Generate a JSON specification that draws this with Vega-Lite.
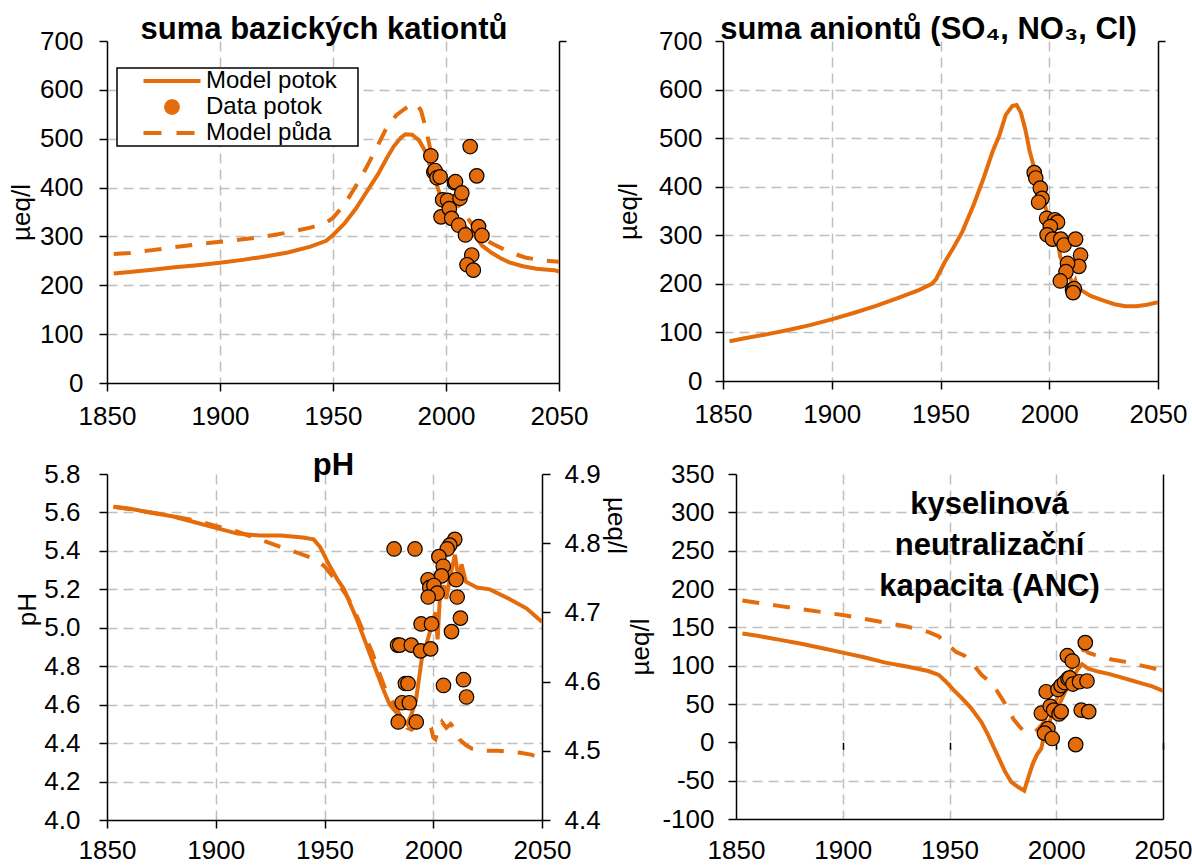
{
  "$schema": "https://vega.github.io/schema/vega-lite/v6.json",
  "padding": {"left": 8, "top": 14, "right": 0, "bottom": 0},
  "background": "white",
  "config": {
    "font": "Liberation Sans",
    "view": {"stroke": null},
    "axis": {
      "labelFont": "Liberation Sans", "labelFontSize": 26, "labelColor": "black",
      "domainColor": "black", "domainWidth": 1.5,
      "tickColor": "black", "tickWidth": 1.5, "tickSize": 8, "labelPadding": 12,
      "gridColor": "#BFBFBF", "gridDash": [10, 6], "gridWidth": 1.5,
      "titleFont": "Liberation Sans", "titleFontSize": 26, "titleFontWeight": "normal", "titleColor": "black",
      "labelFlush": false, "labelOverlap": false
    },
    "title": {"font": "Liberation Sans", "fontSize": 31, "fontWeight": "bold", "color": "black", "anchor": "middle"}
  },
  "datasets": {
    "catLine": [
      {"year": 1853, "value": 224, "series": "Model potok"}, {"year": 1860, "value": 227, "series": "Model potok"},
      {"year": 1870, "value": 232, "series": "Model potok"}, {"year": 1880, "value": 237, "series": "Model potok"},
      {"year": 1890, "value": 241, "series": "Model potok"}, {"year": 1900, "value": 246, "series": "Model potok"},
      {"year": 1910, "value": 252, "series": "Model potok"}, {"year": 1920, "value": 259, "series": "Model potok"},
      {"year": 1930, "value": 267, "series": "Model potok"}, {"year": 1940, "value": 279, "series": "Model potok"},
      {"year": 1947, "value": 291, "series": "Model potok"}, {"year": 1950, "value": 303, "series": "Model potok"},
      {"year": 1955, "value": 326, "series": "Model potok"}, {"year": 1960, "value": 356, "series": "Model potok"},
      {"year": 1965, "value": 392, "series": "Model potok"}, {"year": 1970, "value": 428, "series": "Model potok"},
      {"year": 1974, "value": 462, "series": "Model potok"}, {"year": 1977, "value": 485, "series": "Model potok"},
      {"year": 1980, "value": 502, "series": "Model potok"}, {"year": 1982, "value": 509, "series": "Model potok"},
      {"year": 1985, "value": 508, "series": "Model potok"}, {"year": 1988, "value": 497, "series": "Model potok"},
      {"year": 1991, "value": 473, "series": "Model potok"}, {"year": 1993, "value": 442, "series": "Model potok"},
      {"year": 1996, "value": 405, "series": "Model potok"}, {"year": 1998, "value": 375, "series": "Model potok"},
      {"year": 2001, "value": 355, "series": "Model potok"}, {"year": 2004, "value": 340, "series": "Model potok"},
      {"year": 2007, "value": 327, "series": "Model potok"}, {"year": 2010, "value": 313, "series": "Model potok"},
      {"year": 2013, "value": 300, "series": "Model potok"}, {"year": 2016, "value": 281, "series": "Model potok"},
      {"year": 2020, "value": 267, "series": "Model potok"}, {"year": 2024, "value": 256, "series": "Model potok"},
      {"year": 2028, "value": 247, "series": "Model potok"}, {"year": 2034, "value": 239, "series": "Model potok"},
      {"year": 2040, "value": 234, "series": "Model potok"}, {"year": 2045, "value": 232, "series": "Model potok"},
      {"year": 2048, "value": 231, "series": "Model potok"}, {"year": 2050, "value": 228, "series": "Model potok"},
      {"year": 1853, "value": 264, "series": "Model půda"}, {"year": 1860, "value": 266, "series": "Model půda"},
      {"year": 1870, "value": 272, "series": "Model půda"}, {"year": 1880, "value": 278, "series": "Model půda"},
      {"year": 1890, "value": 284, "series": "Model půda"}, {"year": 1900, "value": 289, "series": "Model půda"},
      {"year": 1910, "value": 294, "series": "Model půda"}, {"year": 1920, "value": 300, "series": "Model půda"},
      {"year": 1930, "value": 308, "series": "Model půda"}, {"year": 1940, "value": 318, "series": "Model půda"},
      {"year": 1947, "value": 328, "series": "Model půda"}, {"year": 1950, "value": 338, "series": "Model půda"},
      {"year": 1955, "value": 365, "series": "Model půda"}, {"year": 1960, "value": 402, "series": "Model půda"},
      {"year": 1965, "value": 443, "series": "Model půda"}, {"year": 1970, "value": 488, "series": "Model půda"},
      {"year": 1974, "value": 525, "series": "Model půda"}, {"year": 1978, "value": 548, "series": "Model půda"},
      {"year": 1982, "value": 562, "series": "Model půda"}, {"year": 1985, "value": 570, "series": "Model půda"},
      {"year": 1987, "value": 571, "series": "Model půda"}, {"year": 1989, "value": 557, "series": "Model půda"},
      {"year": 1991, "value": 522, "series": "Model půda"}, {"year": 1993, "value": 480, "series": "Model půda"},
      {"year": 1995, "value": 442, "series": "Model půda"}, {"year": 1998, "value": 410, "series": "Model půda"},
      {"year": 2001, "value": 388, "series": "Model půda"}, {"year": 2004, "value": 372, "series": "Model půda"},
      {"year": 2007, "value": 355, "series": "Model půda"}, {"year": 2010, "value": 335, "series": "Model půda"},
      {"year": 2014, "value": 308, "series": "Model půda"}, {"year": 2018, "value": 292, "series": "Model půda"},
      {"year": 2021, "value": 284, "series": "Model půda"}, {"year": 2025, "value": 275, "series": "Model půda"},
      {"year": 2030, "value": 265, "series": "Model půda"}, {"year": 2035, "value": 257, "series": "Model půda"},
      {"year": 2042, "value": 251, "series": "Model půda"}, {"year": 2050, "value": 248, "series": "Model půda"}
    ],
    "catPts": [
      {"year": 1993.3, "value": 465}, {"year": 1994.6, "value": 432}, {"year": 1995.1, "value": 435},
      {"year": 1996.0, "value": 420}, {"year": 1997.4, "value": 422}, {"year": 1998.5, "value": 375},
      {"year": 1997.8, "value": 340}, {"year": 2000.7, "value": 374}, {"year": 2001.5, "value": 357},
      {"year": 2002.5, "value": 337}, {"year": 2003.7, "value": 410}, {"year": 2004.2, "value": 412},
      {"year": 2006.2, "value": 378}, {"year": 2007.0, "value": 389}, {"year": 2005.6, "value": 323},
      {"year": 2008.6, "value": 303}, {"year": 2010.7, "value": 484}, {"year": 2013.6, "value": 424},
      {"year": 2014.4, "value": 320}, {"year": 2015.9, "value": 302}, {"year": 2011.4, "value": 262},
      {"year": 2009.3, "value": 242}, {"year": 2012.1, "value": 231}
    ],
    "anLine": [
      {"year": 1853, "value": 82}, {"year": 1860, "value": 88}, {"year": 1870, "value": 96}, {"year": 1880, "value": 105},
      {"year": 1890, "value": 115}, {"year": 1900, "value": 127}, {"year": 1910, "value": 140}, {"year": 1920, "value": 154},
      {"year": 1930, "value": 170}, {"year": 1940, "value": 187}, {"year": 1946, "value": 200}, {"year": 1948, "value": 210},
      {"year": 1952, "value": 245}, {"year": 1956, "value": 275}, {"year": 1960, "value": 307}, {"year": 1965, "value": 360},
      {"year": 1970, "value": 420}, {"year": 1974, "value": 473}, {"year": 1977, "value": 505}, {"year": 1980, "value": 548},
      {"year": 1983, "value": 566}, {"year": 1985, "value": 568}, {"year": 1987, "value": 552}, {"year": 1989, "value": 518},
      {"year": 1991, "value": 473}, {"year": 1993, "value": 440}, {"year": 1995, "value": 412}, {"year": 1997, "value": 380},
      {"year": 1999, "value": 345}, {"year": 2001, "value": 320}, {"year": 2003, "value": 300}, {"year": 2004, "value": 290},
      {"year": 2005, "value": 256}, {"year": 2007, "value": 238}, {"year": 2009, "value": 218}, {"year": 2011, "value": 198},
      {"year": 2012, "value": 207}, {"year": 2013, "value": 192}, {"year": 2015, "value": 186}, {"year": 2019, "value": 175},
      {"year": 2024, "value": 167}, {"year": 2030, "value": 158}, {"year": 2035, "value": 154}, {"year": 2040, "value": 154},
      {"year": 2045, "value": 157}, {"year": 2050, "value": 162}
    ],
    "anPts": [
      {"year": 1993.1, "value": 429}, {"year": 1993.8, "value": 418}, {"year": 1995.9, "value": 397},
      {"year": 1996.7, "value": 376}, {"year": 1995.1, "value": 368}, {"year": 1998.8, "value": 335},
      {"year": 2002.6, "value": 332}, {"year": 2003.8, "value": 327}, {"year": 2000.5, "value": 318},
      {"year": 1999.0, "value": 301}, {"year": 2001.5, "value": 292}, {"year": 2005.3, "value": 292},
      {"year": 2006.8, "value": 280}, {"year": 2012.1, "value": 292}, {"year": 2014.4, "value": 259},
      {"year": 2013.6, "value": 236}, {"year": 2008.4, "value": 242}, {"year": 2007.7, "value": 225},
      {"year": 2005.1, "value": 206}, {"year": 2010.7, "value": 188}, {"year": 2011.5, "value": 190},
      {"year": 2011.0, "value": 182}
    ],
    "phLine": [
      {"year": 1853, "ph": 5.63, "series": "Model potok"}, {"year": 1860, "ph": 5.62, "series": "Model potok"},
      {"year": 1870, "ph": 5.60, "series": "Model potok"}, {"year": 1880, "ph": 5.58, "series": "Model potok"},
      {"year": 1890, "ph": 5.55, "series": "Model potok"}, {"year": 1900, "ph": 5.52, "series": "Model potok"},
      {"year": 1910, "ph": 5.49, "series": "Model potok"}, {"year": 1920, "ph": 5.48, "series": "Model potok"},
      {"year": 1930, "ph": 5.48, "series": "Model potok"}, {"year": 1940, "ph": 5.47, "series": "Model potok"},
      {"year": 1945, "ph": 5.46, "series": "Model potok"}, {"year": 1948, "ph": 5.42, "series": "Model potok"},
      {"year": 1952, "ph": 5.33, "series": "Model potok"}, {"year": 1956, "ph": 5.25, "series": "Model potok"},
      {"year": 1959, "ph": 5.20, "series": "Model potok"}, {"year": 1962, "ph": 5.12, "series": "Model potok"},
      {"year": 1965, "ph": 5.04, "series": "Model potok"}, {"year": 1968, "ph": 4.95, "series": "Model potok"},
      {"year": 1971, "ph": 4.86, "series": "Model potok"}, {"year": 1974, "ph": 4.77, "series": "Model potok"},
      {"year": 1977, "ph": 4.68, "series": "Model potok"}, {"year": 1980, "ph": 4.60, "series": "Model potok"},
      {"year": 1983, "ph": 4.56, "series": "Model potok"}, {"year": 1986, "ph": 4.52, "series": "Model potok"},
      {"year": 1988, "ph": 4.50, "series": "Model potok"}, {"year": 1990, "ph": 4.55, "series": "Model potok"},
      {"year": 1992, "ph": 4.62, "series": "Model potok"}, {"year": 1993, "ph": 4.70, "series": "Model potok"},
      {"year": 1995, "ph": 4.86, "series": "Model potok"}, {"year": 1997, "ph": 4.92, "series": "Model potok"},
      {"year": 1999, "ph": 5.00, "series": "Model potok"}, {"year": 2001, "ph": 5.08, "series": "Model potok"},
      {"year": 2002, "ph": 4.94, "series": "Model potok"}, {"year": 2003, "ph": 5.15, "series": "Model potok"},
      {"year": 2005, "ph": 5.22, "series": "Model potok"}, {"year": 2006, "ph": 5.15, "series": "Model potok"},
      {"year": 2008, "ph": 5.28, "series": "Model potok"}, {"year": 2010, "ph": 5.38, "series": "Model potok"},
      {"year": 2011, "ph": 5.30, "series": "Model potok"}, {"year": 2012, "ph": 5.27, "series": "Model potok"},
      {"year": 2013, "ph": 5.33, "series": "Model potok"}, {"year": 2015, "ph": 5.24, "series": "Model potok"},
      {"year": 2020, "ph": 5.21, "series": "Model potok"}, {"year": 2026, "ph": 5.20, "series": "Model potok"},
      {"year": 2035, "ph": 5.15, "series": "Model potok"}, {"year": 2043, "ph": 5.10, "series": "Model potok"},
      {"year": 2050, "ph": 5.03, "series": "Model potok"},
      {"year": 1853, "ph": 5.63, "series": "Model půda"}, {"year": 1870, "ph": 5.60, "series": "Model půda"},
      {"year": 1890, "ph": 5.56, "series": "Model půda"}, {"year": 1900, "ph": 5.53, "series": "Model půda"},
      {"year": 1910, "ph": 5.50, "series": "Model půda"}, {"year": 1915, "ph": 5.48, "series": "Model půda"},
      {"year": 1920, "ph": 5.46, "series": "Model půda"}, {"year": 1925, "ph": 5.44, "series": "Model půda"},
      {"year": 1930, "ph": 5.42, "series": "Model půda"}, {"year": 1935, "ph": 5.40, "series": "Model půda"},
      {"year": 1940, "ph": 5.38, "series": "Model půda"}, {"year": 1945, "ph": 5.36, "series": "Model půda"},
      {"year": 1950, "ph": 5.32, "series": "Model půda"}, {"year": 1955, "ph": 5.25, "series": "Model půda"},
      {"year": 1960, "ph": 5.17, "series": "Model půda"}, {"year": 1963, "ph": 5.11, "series": "Model půda"},
      {"year": 1966, "ph": 5.03, "series": "Model půda"}, {"year": 1969, "ph": 4.95, "series": "Model půda"},
      {"year": 1972, "ph": 4.87, "series": "Model půda"}, {"year": 1975, "ph": 4.77, "series": "Model půda"},
      {"year": 1978, "ph": 4.68, "series": "Model půda"}, {"year": 1981, "ph": 4.62, "series": "Model půda"},
      {"year": 1984, "ph": 4.56, "series": "Model půda"}, {"year": 1986, "ph": 4.52, "series": "Model půda"},
      {"year": 1988, "ph": 4.48, "series": "Model půda"}, {"year": 1990, "ph": 4.47, "series": "Model půda"},
      {"year": 1993, "ph": 4.50, "series": "Model půda"}, {"year": 1995, "ph": 4.52, "series": "Model půda"},
      {"year": 1997, "ph": 4.50, "series": "Model půda"}, {"year": 1999, "ph": 4.48, "series": "Model půda"},
      {"year": 2000, "ph": 4.43, "series": "Model půda"}, {"year": 2001, "ph": 4.42, "series": "Model půda"},
      {"year": 2002, "ph": 4.46, "series": "Model půda"}, {"year": 2004, "ph": 4.51, "series": "Model půda"},
      {"year": 2006, "ph": 4.48, "series": "Model půda"}, {"year": 2008, "ph": 4.50, "series": "Model půda"},
      {"year": 2010, "ph": 4.47, "series": "Model půda"}, {"year": 2012, "ph": 4.42, "series": "Model půda"},
      {"year": 2015, "ph": 4.39, "series": "Model půda"}, {"year": 2018, "ph": 4.37, "series": "Model půda"},
      {"year": 2022, "ph": 4.36, "series": "Model půda"}, {"year": 2030, "ph": 4.36, "series": "Model půda"},
      {"year": 2040, "ph": 4.35, "series": "Model půda"}, {"year": 2045, "ph": 4.34, "series": "Model půda"},
      {"year": 2050, "ph": 4.32, "series": "Model půda"}
    ],
    "phPts": [
      {"year": 1982.0, "ph": 5.41}, {"year": 1991.6, "ph": 5.41}, {"year": 2009.9, "ph": 5.46},
      {"year": 2007.6, "ph": 5.43}, {"year": 2006.4, "ph": 5.41}, {"year": 2002.6, "ph": 5.37},
      {"year": 2004.6, "ph": 5.32}, {"year": 2003.8, "ph": 5.27}, {"year": 1997.6, "ph": 5.25},
      {"year": 1998.4, "ph": 5.21}, {"year": 2000.3, "ph": 5.22}, {"year": 2001.8, "ph": 5.18},
      {"year": 1997.7, "ph": 5.16}, {"year": 2010.5, "ph": 5.25}, {"year": 2011.0, "ph": 5.16},
      {"year": 1994.4, "ph": 5.02}, {"year": 1999.2, "ph": 5.02}, {"year": 2012.5, "ph": 5.05},
      {"year": 2008.4, "ph": 4.98}, {"year": 1983.6, "ph": 4.91}, {"year": 1984.6, "ph": 4.91},
      {"year": 1989.9, "ph": 4.91}, {"year": 1994.2, "ph": 4.88}, {"year": 1998.8, "ph": 4.89},
      {"year": 1987.2, "ph": 4.71}, {"year": 1988.4, "ph": 4.71}, {"year": 2004.7, "ph": 4.70},
      {"year": 2013.9, "ph": 4.73}, {"year": 2015.3, "ph": 4.64}, {"year": 1985.7, "ph": 4.61},
      {"year": 1989.0, "ph": 4.61}, {"year": 1983.9, "ph": 4.51}, {"year": 1992.2, "ph": 4.51}
    ],
    "ancLine": [
      {"year": 1853, "anc": 142, "series": "Model potok"}, {"year": 1860, "anc": 139, "series": "Model potok"},
      {"year": 1870, "anc": 134, "series": "Model potok"}, {"year": 1880, "anc": 129, "series": "Model potok"},
      {"year": 1890, "anc": 123, "series": "Model potok"}, {"year": 1900, "anc": 117, "series": "Model potok"},
      {"year": 1910, "anc": 111, "series": "Model potok"}, {"year": 1920, "anc": 104, "series": "Model potok"},
      {"year": 1930, "anc": 99, "series": "Model potok"}, {"year": 1940, "anc": 93, "series": "Model potok"},
      {"year": 1945, "anc": 88, "series": "Model potok"}, {"year": 1948, "anc": 80, "series": "Model potok"},
      {"year": 1952, "anc": 68, "series": "Model potok"}, {"year": 1956, "anc": 57, "series": "Model potok"},
      {"year": 1960, "anc": 45, "series": "Model potok"}, {"year": 1965, "anc": 26, "series": "Model potok"},
      {"year": 1968, "anc": 10, "series": "Model potok"}, {"year": 1970, "anc": -2, "series": "Model potok"},
      {"year": 1973, "anc": -20, "series": "Model potok"}, {"year": 1976, "anc": -38, "series": "Model potok"},
      {"year": 1979, "anc": -52, "series": "Model potok"}, {"year": 1982, "anc": -58, "series": "Model potok"},
      {"year": 1985, "anc": -63, "series": "Model potok"}, {"year": 1987, "anc": -45, "series": "Model potok"},
      {"year": 1989, "anc": -28, "series": "Model potok"}, {"year": 1991, "anc": -16, "series": "Model potok"},
      {"year": 1993, "anc": -8, "series": "Model potok"}, {"year": 1994, "anc": 5, "series": "Model potok"},
      {"year": 1996, "anc": 20, "series": "Model potok"}, {"year": 1998, "anc": 36, "series": "Model potok"},
      {"year": 2000, "anc": 45, "series": "Model potok"}, {"year": 2002, "anc": 53, "series": "Model potok"},
      {"year": 2004, "anc": 65, "series": "Model potok"}, {"year": 2006, "anc": 75, "series": "Model potok"},
      {"year": 2008, "anc": 85, "series": "Model potok"}, {"year": 2010, "anc": 95, "series": "Model potok"},
      {"year": 2012, "anc": 102, "series": "Model potok"}, {"year": 2013, "anc": 100, "series": "Model potok"},
      {"year": 2015, "anc": 96, "series": "Model potok"}, {"year": 2020, "anc": 92, "series": "Model potok"},
      {"year": 2025, "anc": 89, "series": "Model potok"}, {"year": 2030, "anc": 85, "series": "Model potok"},
      {"year": 2035, "anc": 81, "series": "Model potok"}, {"year": 2040, "anc": 77, "series": "Model potok"},
      {"year": 2045, "anc": 73, "series": "Model potok"}, {"year": 2050, "anc": 67, "series": "Model potok"},
      {"year": 1853, "anc": 185, "series": "Model půda"}, {"year": 1860, "anc": 182, "series": "Model půda"},
      {"year": 1870, "anc": 178, "series": "Model půda"}, {"year": 1880, "anc": 174, "series": "Model půda"},
      {"year": 1890, "anc": 170, "series": "Model půda"}, {"year": 1900, "anc": 166, "series": "Model půda"},
      {"year": 1910, "anc": 161, "series": "Model půda"}, {"year": 1920, "anc": 156, "series": "Model půda"},
      {"year": 1930, "anc": 151, "series": "Model půda"}, {"year": 1940, "anc": 144, "series": "Model půda"},
      {"year": 1945, "anc": 138, "series": "Model půda"}, {"year": 1949, "anc": 128, "series": "Model půda"},
      {"year": 1953, "anc": 118, "series": "Model půda"}, {"year": 1957, "anc": 113, "series": "Model půda"},
      {"year": 1961, "anc": 102, "series": "Model půda"}, {"year": 1965, "anc": 88, "series": "Model půda"},
      {"year": 1968, "anc": 81, "series": "Model půda"}, {"year": 1972, "anc": 68, "series": "Model půda"},
      {"year": 1975, "anc": 55, "series": "Model půda"}, {"year": 1977, "anc": 46, "series": "Model půda"},
      {"year": 1980, "anc": 30, "series": "Model půda"}, {"year": 1983, "anc": 20, "series": "Model půda"},
      {"year": 1985, "anc": 14, "series": "Model půda"}, {"year": 1987, "anc": 13, "series": "Model půda"},
      {"year": 1989, "anc": 13, "series": "Model půda"}, {"year": 1991, "anc": 16, "series": "Model půda"},
      {"year": 1993, "anc": 22, "series": "Model půda"}, {"year": 1996, "anc": 35, "series": "Model půda"},
      {"year": 2000, "anc": 55, "series": "Model půda"}, {"year": 2004, "anc": 78, "series": "Model půda"},
      {"year": 2008, "anc": 100, "series": "Model půda"}, {"year": 2011, "anc": 115, "series": "Model půda"},
      {"year": 2013, "anc": 122, "series": "Model půda"}, {"year": 2015, "anc": 117, "series": "Model půda"},
      {"year": 2018, "anc": 114, "series": "Model půda"}, {"year": 2022, "anc": 111, "series": "Model půda"},
      {"year": 2026, "anc": 108, "series": "Model půda"}, {"year": 2030, "anc": 106, "series": "Model půda"},
      {"year": 2035, "anc": 104, "series": "Model půda"}, {"year": 2040, "anc": 100, "series": "Model půda"},
      {"year": 2045, "anc": 97, "series": "Model půda"}, {"year": 2050, "anc": 93, "series": "Model půda"}
    ],
    "ancPts": [
      {"year": 2013.6, "anc": 130}, {"year": 2005.2, "anc": 113}, {"year": 2007.5, "anc": 106},
      {"year": 1995.3, "anc": 66}, {"year": 2000.8, "anc": 69}, {"year": 2002.3, "anc": 74},
      {"year": 2003.9, "anc": 78}, {"year": 2005.5, "anc": 83}, {"year": 2006.3, "anc": 84},
      {"year": 2007.8, "anc": 76}, {"year": 2010.9, "anc": 79}, {"year": 2014.4, "anc": 80},
      {"year": 1993.0, "anc": 38}, {"year": 1997.2, "anc": 47}, {"year": 1998.8, "anc": 42},
      {"year": 2001.3, "anc": 37}, {"year": 2002.3, "anc": 40}, {"year": 2011.7, "anc": 42},
      {"year": 2015.2, "anc": 40}, {"year": 1996.1, "anc": 18}, {"year": 1994.5, "anc": 12},
      {"year": 1998.1, "anc": 5}, {"year": 2009.1, "anc": -3}
    ]
  },
  "vconcat": [
    {
      "hconcat": [
        {
          "width": 452, "height": 342,
          "title": {"text": "suma bazických kationtů", "dx": -9, "offset": -18},
          "resolve": {"axis": {"x": "independent", "y": "independent"}},
          "layer": [
            {
              "data": {"name": "catLine"},
              "transform": [{"filter": {"field": "series", "equal": "Model potok"}}],
              "mark": {"type": "line", "strokeWidth": 4, "clip": true},
              "encoding": {
                "x": {"field": "year", "type": "quantitative", "scale": {"domain": [1850, 2050], "nice": false, "zero": false},
                  "axis": {"values": [1850, 1900, 1950, 2000, 2050], "format": "d", "title": null,
                    "gridOpacity": {"condition": {"test": "datum.value == 1850 || datum.value == 2050", "value": 0}, "value": 1}}},
                "y": {"field": "value", "type": "quantitative", "scale": {"domain": [0, 700], "nice": false},
                  "axis": {"values": [0, 100, 200, 300, 400, 500, 600, 700], "title": "µeq/l", "titlePadding": 5, "labelPadding": 16,
                    "gridOpacity": {"condition": {"test": "datum.value == 700 || datum.value == 0", "value": 0}, "value": 1}}},
                "color": {"field": "series", "type": "nominal",
                  "scale": {"domain": ["Model potok", "Data potok", "Model půda"], "range": ["#E46C0A", "#E46C0A", "#E46C0A"]},
                  "legend": {
                    "orient": "none", "legendX": 10, "legendY": 27, "title": null,
                    "padding": 1, "rowPadding": 2,
                    "labelFont": "Liberation Sans", "labelFontSize": 24, "labelColor": "black",
                    "symbolSize": 361, "symbolStrokeWidth": 4,
                    "symbolOffset": 42, "labelOffset": 22,
                    "encode": {
                      "legend": {"update": {"stroke": {"value": "black"}, "strokeWidth": {"value": 1.5}, "fill": {"value": "white"}}},
                      "labels": {"update": {"text": {"signal": "datum.label + '\u00a0\u00a0\u00a0\u200b'"}}},
                      "symbols": {"update": {
                        "shape": {"signal": "datum.value === 'Data potok' ? 'circle' : 'M-3,0H3'"},
                        "size": {"signal": "datum.value === 'Data potok' ? 210 : 361"},
                        "fill": {"signal": "datum.value === 'Data potok' ? '#E46C0A' : 'transparent'"},
                        "stroke": {"signal": "datum.value === 'Data potok' ? 'black' : '#E46C0A'"},
                        "strokeWidth": {"signal": "datum.value === 'Data potok' ? 1.2 : 4"},
                        "strokeDash": {"signal": "datum.value === 'Model půda' ? [18, 15] : [1, 0]"},
                        "opacity": {"value": 1}
                      }}
                    }
                  }}
              }
            },
            {
              "data": {"name": "catLine"},
              "transform": [{"filter": {"field": "series", "equal": "Model půda"}}],
              "mark": {"type": "line", "strokeWidth": 4, "strokeDash": [17, 14], "clip": true},
              "encoding": {
                "x": {"field": "year", "type": "quantitative", "scale": {"domain": [1850, 2050], "nice": false, "zero": false}, "axis": null},
                "y": {"field": "value", "type": "quantitative", "scale": {"domain": [0, 700], "nice": false}, "axis": null},
                "color": {"field": "series", "type": "nominal"}
              }
            },
            {
              "data": {"name": "catPts"},
              "mark": {"type": "point", "filled": true, "size": 210, "stroke": "black", "strokeWidth": 1.2, "opacity": 1},
              "encoding": {
                "x": {"field": "year", "type": "quantitative", "scale": {"domain": [1850, 2050], "nice": false, "zero": false}, "axis": null},
                "y": {"field": "value", "type": "quantitative", "scale": {"domain": [0, 700], "nice": false}, "axis": null},
                "color": {"datum": "Data potok", "type": "nominal"}
              }
            },
            {
              "data": {"name": "catPts"},
              "mark": {"type": "point", "opacity": 0},
              "encoding": {
                "x": {"field": "year", "type": "quantitative", "scale": {"domain": [1850, 2050], "nice": false, "zero": false}, "axis": null},
                "y": {"field": "value", "type": "quantitative", "scale": {"domain": [0, 700], "nice": false},
                  "axis": {"orient": "right", "values": [700], "labels": false, "grid": false, "title": null, "tickSize": 7}}
              }
            }
          ]
        },
        {
          "width": 435, "height": 340,
          "title": {"text": "suma aniontů (SO₄, NO₃, Cl)", "dx": -12, "offset": -18},
          "resolve": {"axis": {"x": "independent", "y": "independent"}},
          "layer": [
            {
              "data": {"name": "anLine"},
              "mark": {"type": "line", "strokeWidth": 4, "color": "#E46C0A", "clip": true},
              "encoding": {
                "x": {"field": "year", "type": "quantitative", "scale": {"domain": [1850, 2050], "nice": false, "zero": false},
                  "axis": {"values": [1850, 1900, 1950, 2000, 2050], "format": "d", "title": null,
                    "gridOpacity": {"condition": {"test": "datum.value == 1850 || datum.value == 2050", "value": 0}, "value": 1}}},
                "y": {"field": "value", "type": "quantitative", "scale": {"domain": [0, 700], "nice": false},
                  "axis": {"values": [0, 100, 200, 300, 400, 500, 600, 700], "title": "µeq/l", "titlePadding": 17, "labelPadding": 13,
                    "gridOpacity": {"condition": {"test": "datum.value == 700 || datum.value == 0", "value": 0}, "value": 1}}}
              }
            },
            {
              "data": {"name": "anPts"},
              "mark": {"type": "point", "filled": true, "size": 210, "color": "#E46C0A", "stroke": "black", "strokeWidth": 1.2, "opacity": 1},
              "encoding": {
                "x": {"field": "year", "type": "quantitative", "scale": {"domain": [1850, 2050], "nice": false, "zero": false}, "axis": null},
                "y": {"field": "value", "type": "quantitative", "scale": {"domain": [0, 700], "nice": false}, "axis": null}
              }
            },
            {
              "data": {"name": "anPts"},
              "mark": {"type": "point", "opacity": 0},
              "encoding": {
                "x": {"field": "year", "type": "quantitative", "scale": {"domain": [1850, 2050], "nice": false, "zero": false}, "axis": null},
                "y": {"field": "value", "type": "quantitative", "scale": {"domain": [0, 700], "nice": false},
                  "axis": {"orient": "right", "values": [700], "labels": false, "grid": false, "title": null, "tickSize": 7}}
              }
            }
          ]
        }
      ],
      "bounds": "flush",
      "spacing": 164
    },
    {
      "hconcat": [
        {
          "width": 435, "height": 346,
          "title": {"text": "pH", "dx": 9, "offset": -21},
          "resolve": {"scale": {"y": "independent"}, "axis": {"x": "independent", "y": "independent"}},
          "layer": [
            {
              "data": {"name": "phLine"},
              "transform": [{"filter": {"field": "series", "equal": "Model potok"}}],
              "mark": {"type": "line", "strokeWidth": 4, "color": "#E46C0A", "clip": true},
              "encoding": {
                "x": {"field": "year", "type": "quantitative", "scale": {"domain": [1850, 2050], "nice": false, "zero": false},
                  "axis": {"values": [1850, 1900, 1950, 2000, 2050], "format": "d", "title": null, "labelPadding": 9,
                    "gridOpacity": {"condition": {"test": "datum.value == 1850 || datum.value == 2050", "value": 0}, "value": 1}}},
                "y": {"field": "ph", "type": "quantitative", "scale": {"domain": [4.0, 5.8], "nice": false, "zero": false},
                  "axis": {"values": [4.0, 4.2, 4.4, 4.6, 4.8, 5.0, 5.2, 5.4, 5.6, 5.8], "format": ".1f", "title": "pH", "labelPadding": 19,
                    "titleX": -67, "titleY": 135,
                    "gridOpacity": {"condition": {"test": "datum.value > 5.7 || datum.value < 4.1", "value": 0}, "value": 1}}}
              }
            },
            {
              "data": {"name": "phLine"},
              "transform": [{"filter": {"field": "series", "equal": "Model půda"}}],
              "mark": {"type": "line", "strokeWidth": 4, "color": "#E46C0A", "strokeDash": [17, 14], "clip": true},
              "encoding": {
                "x": {"field": "year", "type": "quantitative", "scale": {"domain": [1850, 2050], "nice": false, "zero": false}, "axis": null},
                "y": {"field": "ph", "type": "quantitative", "scale": {"domain": [4.0, 5.8], "nice": false, "zero": false}, "axis": null}
              }
            },
            {
              "data": {"name": "phPts"},
              "mark": {"type": "point", "filled": true, "size": 210, "color": "#E46C0A", "stroke": "black", "strokeWidth": 1.2, "opacity": 1},
              "encoding": {
                "x": {"field": "year", "type": "quantitative", "scale": {"domain": [1850, 2050], "nice": false, "zero": false}, "axis": null},
                "y": {"field": "ph", "type": "quantitative", "scale": {"domain": [4.0, 5.8], "nice": false, "zero": false}, "axis": null}
              }
            },
            {
              "data": {"name": "phPts"},
              "mark": {"type": "point", "opacity": 0, "clip": true},
              "encoding": {
                "x": {"field": "year", "type": "quantitative", "scale": {"domain": [1850, 2050], "nice": false, "zero": false}, "axis": null},
                "y": {"field": "ph", "type": "quantitative", "scale": {"domain": [4.4, 4.9], "nice": false, "zero": false},
                  "axis": {"orient": "right", "values": [4.4, 4.5, 4.6, 4.7, 4.8, 4.9], "format": ".1f", "grid": false,
                    "title": "µeq/l", "titleAngle": 90, "titleX": 60, "titleY": 51, "titleBaseline": "bottom", "labelPadding": 14}}
              }
            }
          ]
        },
        {
          "width": 427, "height": 345,
          "title": {"text": ["kyselinová", "neutralizační", "kapacita (ANC)"], "dx": 40, "offset": -142, "lineHeight": 41},
          "resolve": {"axis": {"x": "independent", "y": "independent"}},
          "layer": [
            {
              "data": {"name": "ancLine"},
              "transform": [{"filter": {"field": "series", "equal": "Model potok"}}],
              "mark": {"type": "line", "strokeWidth": 4, "color": "#E46C0A", "clip": true},
              "encoding": {
                "x": {"field": "year", "type": "quantitative", "scale": {"domain": [1850, 2050], "nice": false, "zero": false},
                  "axis": {"values": [1850, 1900, 1950, 2000, 2050], "format": "d", "title": null, "ticks": false, "labelPadding": 18,
                    "gridOpacity": {"condition": {"test": "datum.value == 1850 || datum.value == 2050", "value": 0}, "value": 1}}},
                "y": {"field": "anc", "type": "quantitative", "scale": {"domain": [-100, 350], "nice": false, "zero": false},
                  "axis": {"values": [-100, -50, 0, 50, 100, 150, 200, 250, 300, 350], "title": "µeq/l", "titlePadding": 8, "labelPadding": 14,
                    "labelExpr": "replace(datum.label, '\u2212', '-')",
                    "gridOpacity": {"condition": {"test": "datum.value == 350 || datum.value == -100 || datum.value == 0", "value": 0}, "value": 1}}}
              }
            },
            {
              "data": {"name": "ancLine"},
              "transform": [{"filter": {"field": "series", "equal": "Model půda"}}],
              "mark": {"type": "line", "strokeWidth": 4, "color": "#E46C0A", "strokeDash": [17, 14], "clip": true},
              "encoding": {
                "x": {"field": "year", "type": "quantitative", "scale": {"domain": [1850, 2050], "nice": false, "zero": false}, "axis": null},
                "y": {"field": "anc", "type": "quantitative", "scale": {"domain": [-100, 350], "nice": false, "zero": false}, "axis": null}
              }
            },
            {
              "mark": {"type": "rule", "color": "black", "strokeWidth": 1.5},
              "encoding": {
                "y": {"datum": 0, "type": "quantitative", "scale": {"domain": [-100, 350], "nice": false, "zero": false}, "axis": null}
              }
            },
            {
              "data": {"name": "ancPts"},
              "mark": {"type": "point", "filled": true, "size": 210, "color": "#E46C0A", "stroke": "black", "strokeWidth": 1.2, "opacity": 1},
              "encoding": {
                "x": {"field": "year", "type": "quantitative", "scale": {"domain": [1850, 2050], "nice": false, "zero": false}, "axis": null},
                "y": {"field": "anc", "type": "quantitative", "scale": {"domain": [-100, 350], "nice": false, "zero": false}, "axis": null}
              }
            },
            {
              "data": {"name": "ancPts"},
              "mark": {"type": "point", "opacity": 0},
              "encoding": {
                "x": {"field": "year", "type": "quantitative", "scale": {"domain": [1850, 2050], "nice": false, "zero": false},
                  "axis": {"orient": "bottom", "offset": -76.7, "values": [1850, 1900, 1950, 2000, 2050], "domain": false,
                    "labels": false, "grid": false, "title": null, "tickSize": 7}},
                "y": {"field": "anc", "type": "quantitative", "scale": {"domain": [-100, 350], "nice": false, "zero": false},
                  "axis": {"orient": "right", "values": [], "labels": false, "ticks": false, "grid": false, "title": null}}
              }
            }
          ]
        }
      ],
      "bounds": "flush",
      "spacing": 194
    }
  ],
  "spacing": 21
}
